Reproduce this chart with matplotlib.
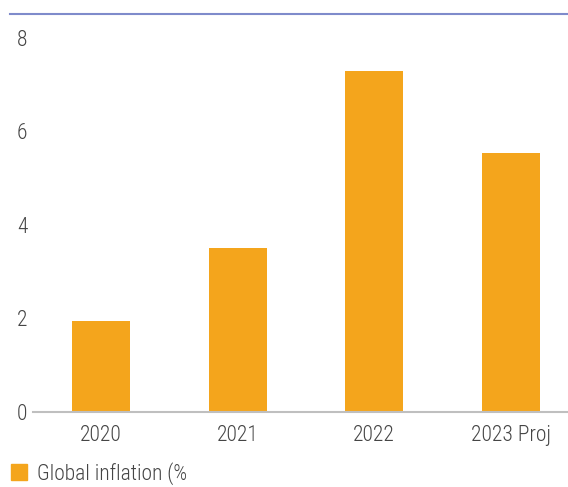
import matplotlib.pyplot as plt
from matplotlib.lines import Line2D
from matplotlib.patches import Patch

years = ["2020", "2021", "2022", "2023 Proj"]
inflation = [1.95, 3.5, 7.3, 5.55]
y_ticks = [0, 2, 4, 6, 8]
series_name = "Global inflation (%"

plt.rcParams['font.family'] = ['Roboto Condensed', 'Liberation Sans Narrow', 'Roboto', 'DejaVu Sans']
plt.rcParams['font.stretch'] = 'condensed'
plt.rcParams['font.weight'] = 'light'

bar_color = '#f4a51c'
text_color = '#454545'

fig = plt.figure(figsize=(5.68, 4.87), dpi=100)
ax = fig.add_axes([0.058, 0.154, 0.942, 0.768])

x = range(len(years))
ax.bar(x, inflation, width=0.425, color=bar_color, zorder=2)

ax.set_xlim(-0.5, 3.42)
ax.set_ylim(0, 8)
ax.set_yticks(y_ticks)
ax.set_xticks(list(x))
ax.set_xticklabels(years)

for side in ['top', 'right', 'left']:
    ax.spines[side].set_visible(False)
ax.spines['bottom'].set_color('#bfbfbf')
ax.spines['bottom'].set_linewidth(1.5)
ax.tick_params(axis='both', length=0, labelsize=15.5, colors=text_color)
ax.tick_params(axis='x', pad=9)
ax.tick_params(axis='y', pad=4)

# decorative rule across the top
fig.add_artist(Line2D([10 / 568, 1.0], [1 - 14 / 487, 1 - 14 / 487],
                      color='#7f8bcb', linewidth=1.5))

fig.legend(handles=[Patch(color=bar_color, label=series_name)],
           loc='lower left', bbox_to_anchor=(-0.015, -0.035), frameon=False,
           handlelength=0.75, handleheight=0.75, handletextpad=0.45,
           fontsize=15.5, labelcolor=text_color)

fig.savefig('out.png', dpi=100)
